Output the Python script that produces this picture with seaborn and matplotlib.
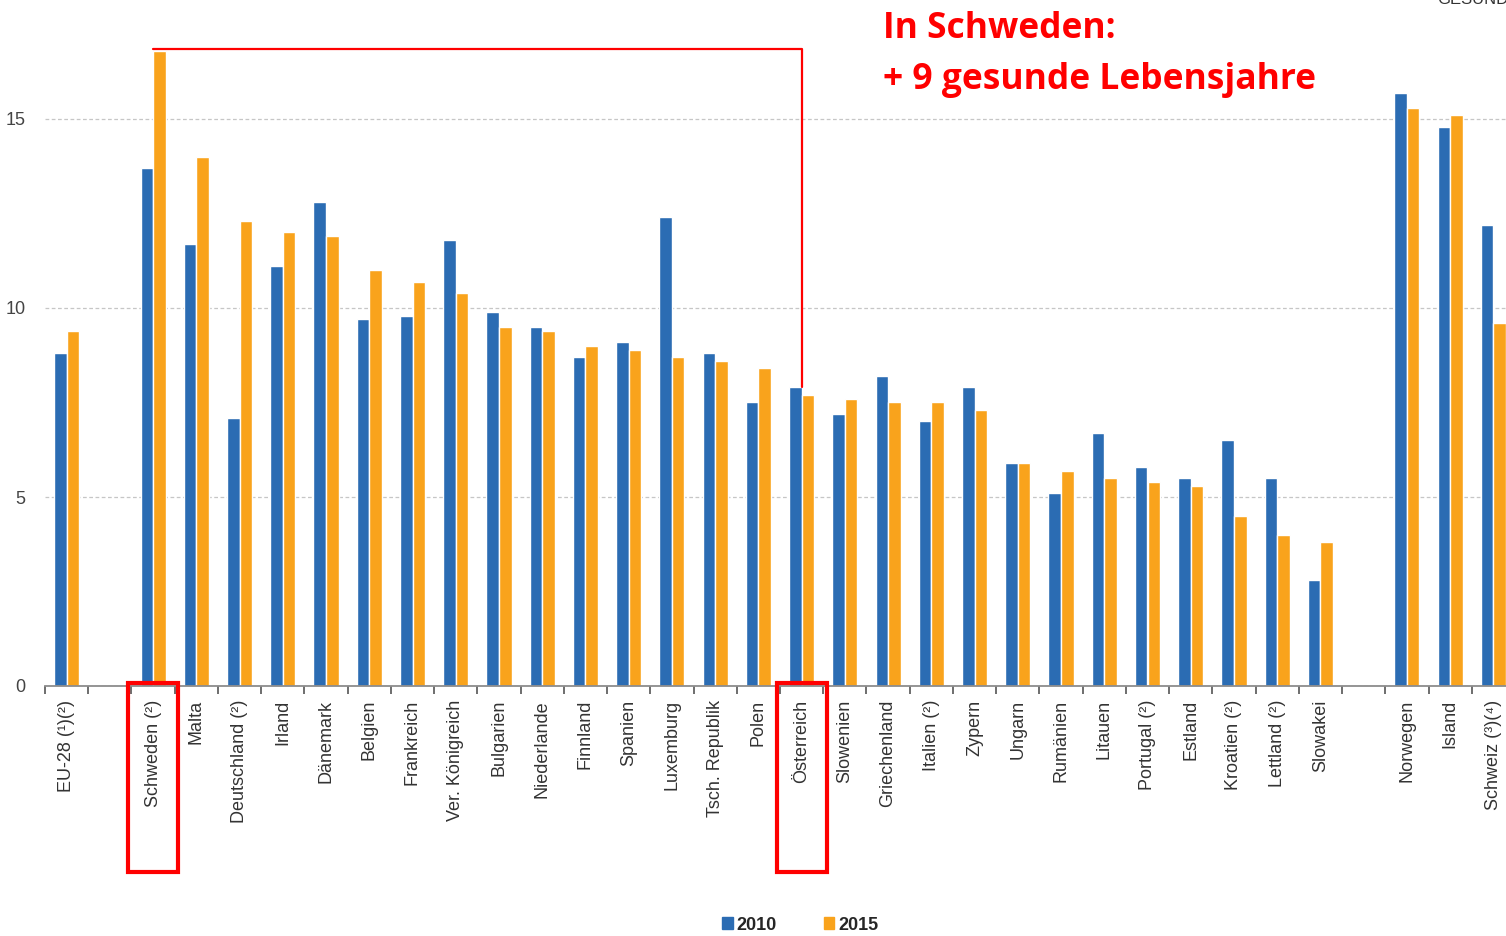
import matplotlib.pyplot as plt
import matplotlib.transforms as mtransforms
from matplotlib.patches import Rectangle
import seaborn as sns
import pandas as pd

# Gesunde Lebensjahre im Alter von 65, 2010 und 2015
laender = ['EU-28 (¹)(²)', 'Schweden (²)', 'Malta', 'Deutschland (²)', 'Irland',
           'Dänemark', 'Belgien', 'Frankreich', 'Ver. Königreich', 'Bulgarien',
           'Niederlande', 'Finnland', 'Spanien', 'Luxemburg', 'Tsch. Republik',
           'Polen', 'Österreich', 'Slowenien', 'Griechenland', 'Italien (²)',
           'Zypern', 'Ungarn', 'Rumänien', 'Litauen', 'Portugal (²)', 'Estland',
           'Kroatien (²)', 'Lettland (²)', 'Slowakei', 'Norwegen', 'Island',
           'Schweiz (³)(⁴)']
werte_2010 = [8.8, 13.7, 11.7, 7.1, 11.1, 12.8, 9.7, 9.8, 11.8, 9.9, 9.5, 8.7,
              9.1, 12.4, 8.8, 7.5, 7.9, 7.2, 8.2, 7.0, 7.9, 5.9, 5.1, 6.7, 5.8,
              5.5, 6.5, 5.5, 2.8, 15.7, 14.8, 12.2]
werte_2015 = [9.4, 16.8, 14.0, 12.3, 12.0, 11.9, 11.0, 10.7, 10.4, 9.5, 9.4, 9.0,
              8.9, 8.7, 8.6, 8.4, 7.7, 7.6, 7.5, 7.5, 7.3, 5.9, 5.7, 5.5, 5.4,
              5.3, 4.5, 4.0, 3.8, 15.3, 15.1, 9.6]
jahre = ['2010', '2015']
farben = ['#2b6cb3', '#f9a31c']

# leere Plätze zwischen EU-28 / EU-Ländern / EFTA
reihenfolge = laender[:1] + [' '] + laender[1:29] + ['  '] + laender[29:]

df = pd.DataFrame({
    'land': laender * 2,
    'wert': werte_2010 + werte_2015,
    'jahr': ['2010'] * len(laender) + ['2015'] * len(laender),
})

sns.set_theme(style='white')
plt.rcParams['font.family'] = ['Liberation Sans', 'DejaVu Sans']

fig = plt.figure(figsize=(15.06, 9.36), dpi=100)
ax = fig.add_axes([45 / 1506, 250 / 936, 1470 / 1506, 661.5 / 936])

sns.barplot(data=df, x='land', y='wert', hue='jahr', order=reihenfolge,
            hue_order=jahre, palette=farben, width=0.58, saturation=1,
            ax=ax, legend=False)

ax.set_xlim(-0.5, len(reihenfolge) - 0.5)
ax.set_ylim(0, 17.5)
ax.set_xlabel('')
ax.set_ylabel('')
ax.set_yticks([0, 5, 10, 15])
ax.yaxis.grid(True, linestyle=(0, (3, 2)), color='#c6c6c6', linewidth=0.9)
ax.set_axisbelow(True)
for s in ['left', 'right', 'top']:
    ax.spines[s].set_visible(False)
ax.spines['bottom'].set_color('#8c8c8c')
ax.spines['bottom'].set_linewidth(1.3)

ax.set_xticks(range(len(reihenfolge)))
ax.set_xticklabels(reihenfolge, rotation=90, va='top', ha='center',
                   fontsize=13, color='#333333')
ax.set_xticks([i - 0.5 for i in range(len(reihenfolge) + 1)], minor=True)
ax.tick_params(axis='x', which='major', length=0, pad=10)
ax.tick_params(axis='x', which='minor', length=6, width=1.2, color='#555555',
               direction='out', bottom=True)
ax.tick_params(axis='y', length=0, labelsize=13, labelcolor='#444444', pad=14)

# Legende unten
handles = [Rectangle((0, 0), 1, 1, color=c) for c in farben]
fig.legend(handles, jahre, loc='center', bbox_to_anchor=(800 / 1506, 11 / 936),
           ncol=2, frameon=False, handlelength=0.6, handleheight=0.6,
           handletextpad=0.2, columnspacing=2.6,
           prop={'weight': 'bold', 'size': 13})

# Markierung Schweden -> Österreich
i_sw = reihenfolge.index('Schweden (²)')
i_at = reihenfolge.index('Österreich')
h_sw = werte_2015[laender.index('Schweden (²)')]
h_at = werte_2010[laender.index('Österreich')]
ax.plot([i_sw, i_at, i_at], [h_sw + 0.05, h_sw + 0.05, h_at],
        color='#ff0000', linewidth=1.6, clip_on=False, zorder=5)

trans = mtransforms.blended_transform_factory(ax.transData, fig.transFigure)
for i in [i_sw, i_at]:
    ax.add_patch(Rectangle((i - 0.58, 64 / 936), 1.16, 189 / 936,
                           transform=trans, fill=False, edgecolor='#ff0000',
                           linewidth=3, clip_on=False, zorder=6))

fig.text(883 / 1506, (936 - 38) / 936, 'In Schweden:', color='#ff0000',
         fontsize=25.5, fontweight='bold', family=['Open Sans', 'DejaVu Sans'],
         va='baseline', ha='left')
fig.text(883 / 1506, (936 - 89) / 936, '+ 9 gesunde Lebensjahre', color='#ff0000',
         fontsize=25.5, fontweight='bold', family=['Open Sans', 'DejaVu Sans'],
         va='baseline', ha='left')
fig.text(1437 / 1506, 1.0, 'GESUNDHEIT', color='#333333', fontsize=12,
         va='center', ha='left')

fig.savefig('out.png', dpi=100)
